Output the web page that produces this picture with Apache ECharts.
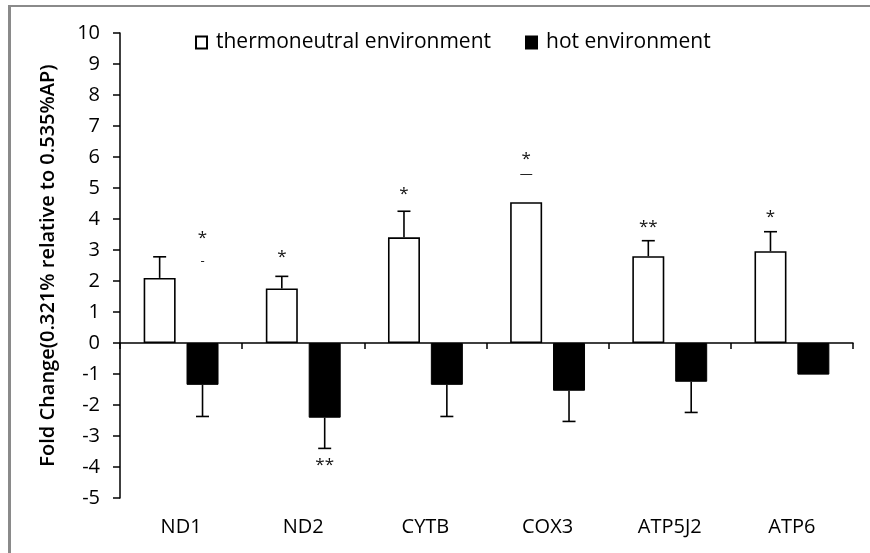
<!DOCTYPE html>
<html>
<head>
<meta charset="utf-8">
<title>Fold change of mitochondrial genes</title>
<script src="https://cdn.jsdelivr.net/npm/echarts@6/dist/echarts.min.js"></script>
<style>
  html, body { margin: 0; padding: 0; background: #fff; }
  #chart { width: 870px; height: 553px; }
</style>
</head>
<body>
<div id="chart"></div>
<script>
// Genes on the x axis
const categories = ['ND1', 'ND2', 'CYTB', 'COX3', 'ATP5J2', 'ATP6'];

// Mean fold change for each environment
const thermoneutral = [2.10, 1.76, 3.41, 4.54, 2.80, 2.96];
const hot = [-1.35, -2.41, -1.35, -1.54, -1.25, -1.02];

// Where each one-sided error bar ends (null = no bar drawn)
const thermoneutralErrEnd = [2.78, 2.15, 4.25, null, 3.30, 3.59];
const hotErrEnd = [-2.37, -3.40, -2.37, -2.53, -2.24, null];

// Value axis range
const yMin = -5;
const yMax = 10;
const yStep = 1;

// Significance marks: gene index, bar (0 = thermoneutral, 1 = hot), height, text
const markGene = [0, 0, 1, 1, 2, 3, 3, 4, 5];
const markBar = [1, 1, 0, 1, 0, 0, 0, 0, 0];
const markY = [3.46, 2.62, 2.82, -3.87, 4.88, 5.99, 5.45, 3.81, 4.13];
const markText = ['*', '-', '*', '**', '*', '*', '\u2014', '**', '*'];

const FONT = '"Open Sans", "Noto Sans", sans-serif';
const BAR_W = 32;
const BAR_GAP = 0.34;
// horizontal distance between the category centre and each bar centre
const HALF_STEP = (BAR_W + BAR_W * BAR_GAP) / 2;

function errorBarRender(side) {
  return function (params, api) {
    const c0 = api.coord([api.value(0), api.value(1)]);
    const c1 = api.coord([api.value(0), api.value(2)]);
    const x = c0[0] + side * HALF_STEP;
    const cap = 6.5;
    const style = { stroke: '#000', lineWidth: 1.6 };
    return {
      type: 'group',
      children: [
        { type: 'line', shape: { x1: x, y1: c0[1], x2: x, y2: c1[1] }, style: style },
        { type: 'line', shape: { x1: x - cap, y1: c1[1], x2: x + cap, y2: c1[1] }, style: style }
      ]
    };
  };
}

const thermoErrData = [];
const hotErrData = [];
categories.forEach(function (_, i) {
  if (thermoneutralErrEnd[i] != null) thermoErrData.push([i, thermoneutral[i], thermoneutralErrEnd[i]]);
  if (hotErrEnd[i] != null) hotErrData.push([i, hot[i], hotErrEnd[i]]);
});

const markData = markGene.map(function (g, k) {
  return [g, markY[k], markBar[k], markText[k]];
});

const chart = echarts.init(document.getElementById('chart'), null, { renderer: 'canvas' });

chart.setOption({
  animation: false,
  backgroundColor: '#fff',
  grid: { left: 120, right: 17, top: 33, bottom: 55, containLabel: false },
  legend: {
    data: ['thermoneutral environment', 'hot environment'],
    left: 190,
    top: 27,
    icon: 'rect',
    itemWidth: 11,
    itemHeight: 12,
    itemGap: 34,
    textStyle: { fontFamily: FONT, fontSize: 21, color: '#000', padding: [0, 0, 0, 4] }
  },
  xAxis: [
    {
      type: 'category',
      data: categories,
      axisLine: { onZero: true, lineStyle: { color: '#000', width: 1.5 } },
      axisTick: { show: true, length: 6, lineStyle: { color: '#000', width: 1.5 } },
      axisLabel: { show: false },
      splitLine: { show: false }
    },
    {
      type: 'category',
      data: categories,
      position: 'bottom',
      axisLine: { show: false, onZero: false },
      axisTick: { show: false },
      axisLabel: { show: true, margin: 19, fontFamily: FONT, fontSize: 20, color: '#000' },
      splitLine: { show: false }
    }
  ],
  yAxis: {
    type: 'value',
    min: yMin,
    max: yMax,
    interval: yStep,
    name: 'Fold Change(0.321% relative to 0.535%AP)',
    nameLocation: 'middle',
    nameGap: 62,
    nameTextStyle: { fontFamily: FONT, fontSize: 20, fontWeight: 600, color: '#000' },
    axisLine: { show: true, lineStyle: { color: '#000', width: 1.5 } },
    axisTick: { show: true, length: 7, lineStyle: { color: '#000', width: 1.5 } },
    axisLabel: { margin: 20, fontFamily: FONT, fontSize: 20, color: '#000' },
    splitLine: { show: false }
  },
  series: [
    {
      name: 'thermoneutral environment',
      type: 'bar',
      data: thermoneutral,
      barWidth: BAR_W,
      barGap: (BAR_GAP * 100) + '%',
      itemStyle: { color: '#fff', borderColor: '#000', borderWidth: 1.6 },
      z: 2
    },
    {
      name: 'hot environment',
      type: 'bar',
      data: hot,
      barWidth: BAR_W,
      barGap: (BAR_GAP * 100) + '%',
      itemStyle: { color: '#000', borderColor: '#000', borderWidth: 1 },
      z: 2
    },
    {
      type: 'custom',
      name: 'thermoneutral error',
      data: thermoErrData,
      renderItem: errorBarRender(-1),
      encode: { x: 0, y: [1, 2] },
      z: 3,
      silent: true
    },
    {
      type: 'custom',
      name: 'hot error',
      data: hotErrData,
      renderItem: errorBarRender(1),
      encode: { x: 0, y: [1, 2] },
      z: 3,
      silent: true
    },
    {
      type: 'custom',
      name: 'significance',
      data: markData,
      encode: { x: 0, y: 1 },
      z: 4,
      silent: true,
      renderItem: function (params, api) {
        const c = api.coord([api.value(0), api.value(1)]);
        const side = api.value(2) === 0 ? -1 : 1;
        const txt = markData[params.dataIndex][3];
        const isStar = txt.indexOf('*') >= 0;
        return {
          type: 'text',
          x: c[0] + side * HALF_STEP,
          y: c[1] + (isStar ? 2 : 0),
          style: {
            text: txt,
            fill: '#111',
            font: (isStar ? '17px ' : '13px ') + FONT,
            textAlign: 'center',
            textVerticalAlign: 'middle'
          }
        };
      }
    }
  ],
  graphic: [
    { type: 'line', shape: { x1: 8, y1: 6, x2: 870, y2: 6 }, style: { stroke: '#8a8a8a', lineWidth: 2 }, silent: true },
    { type: 'line', shape: { x1: 9.5, y1: 5, x2: 9.5, y2: 553 }, style: { stroke: '#8a8a8a', lineWidth: 3 }, silent: true }
  ]
});
</script>
</body>
</html>
